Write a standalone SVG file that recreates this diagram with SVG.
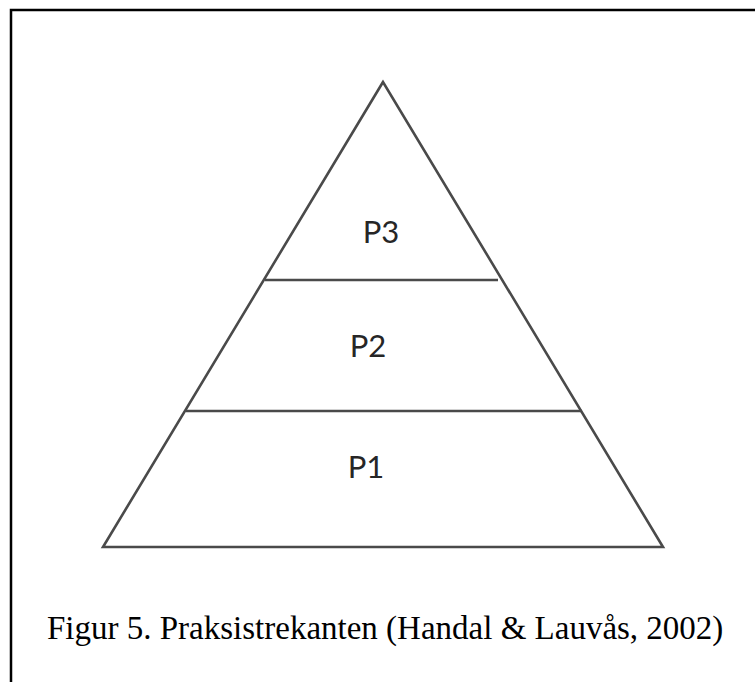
<svg xmlns="http://www.w3.org/2000/svg" width="755" height="682" viewBox="0 0 755 682">
<style>
.frame{stroke:#000;stroke-width:2.5;fill:none}
.tri{stroke:#4a4a4a;stroke-width:2.6;fill:none;stroke-linejoin:miter}
.lbl{font-family:Lato,"Open Sans","Liberation Sans",sans-serif;font-size:31px;fill:#262626;text-anchor:middle}
.cap{font-family:"Liberation Serif","Times New Roman",serif;font-size:33px;fill:#000}
</style>
<rect width="755" height="682" fill="#fff"/>
<path class="frame" d="M11,682 V10 H755"/>
<g id="pyramid">
<polygon class="tri" points="383,82 103,547 663,547"/>
</g>
<g id="connectors">
<line class="tri" x1="265" y1="280" x2="498" y2="280"/>
<line class="tri" x1="186" y1="411" x2="582" y2="411"/>
</g>
<g id="p3"><text class="lbl" x="381" y="243">P3</text></g>
<g id="p2"><text class="lbl" x="368" y="357">P2</text></g>
<g id="p1"><text class="lbl" x="366" y="478">P1</text></g>
<text class="cap" x="47" y="639">Figur 5. Praksistrekanten (Handal &amp; Lauvås, 2002)</text>
</svg>
